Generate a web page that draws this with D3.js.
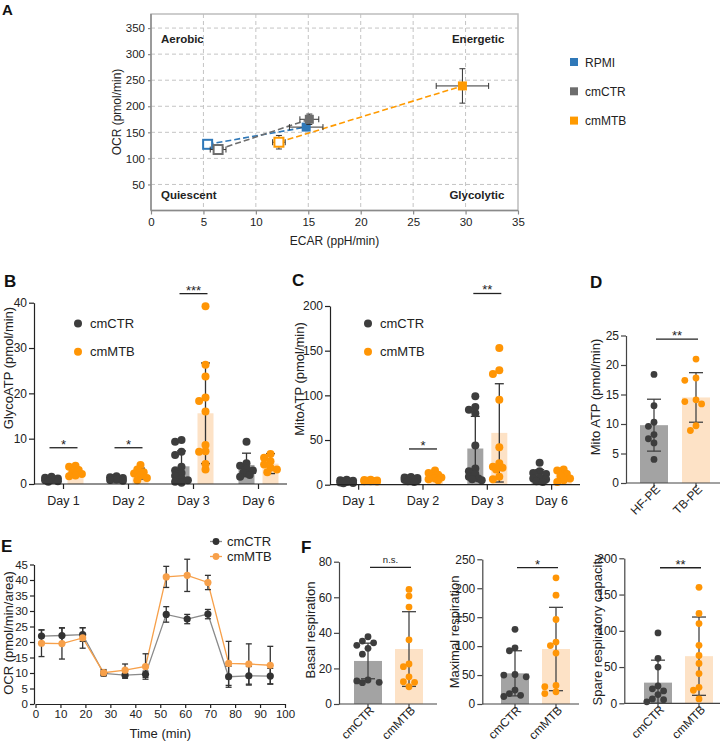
<!DOCTYPE html>
<html>
<head>
<meta charset="utf-8">
<script src="https://cdn.jsdelivr.net/npm/d3@7"></script>
<style>
  body { margin: 0; background: #fff; }
  svg { font-family: "Liberation Sans", Arial, Helvetica, sans-serif; }
</style>
</head>
<body>
<svg id="fig" width="727" height="744"></svg>
<script>
// ---------- Panel A: energy map ----------
const aGroups = ["RPMI", "cmCTR", "cmMTB"];
const aColors = ["#2f78b8", "#6d6d6d", "#ff9a00"];
const aBaseEcar = [5.4, 6.4, 12.2];
const aBaseOcr = [127, 117, 131];
const aBaseEcarErr = [0, 0.75, 0.6];
const aBaseOcrErr = [0, 3, 13];
const aStressEcar = [14.8, 15.1, 29.7];
const aStressOcr = [160, 175, 239];
const aStressEcarErr = [1.6, 0.9, 2.5];
const aStressOcrErr = [3, 10, 33];
const aEcarTicks = [0, 5, 10, 15, 20, 25, 30, 35];
const aOcrTicks = [50, 100, 150, 200, 250, 300, 350];

// ---------- Panels B / C: per day ----------
const days = ["Day 1", "Day 2", "Day 3", "Day 6"];
const groups = ["cmCTR", "cmMTB"];

const glycoCtrDots = [
  [1.6, 1.4, 1.2, 1.1, 1.0, 0.9, 0.8, 0.6, 0.5],
  [1.7, 1.5, 1.3, 1.2, 1.1, 1.0, 0.9, 0.7],
  [9.7, 9.3, 7.1, 6.4, 3.8, 3.0, 2.4, 1.8, 1.2, 0.8, 0.5, 0.3],
  [9.3, 4.6, 4.0, 3.4, 3.0, 2.5, 2.0, 1.6]
];
const glycoCtrMean = [1.0, 1.2, 3.9, 4.2];
const glycoCtrSd = [0.4, 0.3, 3.4, 2.6];
const glycoMtbDots = [
  [4.0, 3.8, 3.1, 2.6, 2.2, 1.9, 1.7],
  [4.2, 3.2, 2.6, 2.3, 1.9, 1.3, 0.8],
  [39.2, 26.3, 23.7, 19.1, 18.3, 16.0, 8.6, 7.2, 7.1, 4.4, 3.2],
  [6.6, 5.8, 5.0, 4.3, 3.6, 3.2, 2.6]
];
const glycoMtbMean = [2.8, 2.3, 15.6, 4.5];
const glycoMtbSd = [0.9, 1.2, 11.1, 2.2];
const glycoTicks = [0, 10, 20, 30, 40];
const glycoSigDays = ["Day 1", "Day 2", "Day 3"];
const glycoSigLabels = ["*", "*", "***"];
const glycoSigLevels = [8, 8, 42];

const mitoCtrDots = [
  [5.5, 5.0, 4.5, 4.0, 3.5, 3.0, 2.5, 2.0, 1.5],
  [8.5, 8.0, 7.5, 7.0, 6.5, 6.0, 5.5, 5.0, 4.0, 3.0],
  [99, 87, 84, 80, 44, 18, 15, 12, 9, 7, 6, 5],
  [24.6, 15, 13, 12, 8, 7, 6, 4, 3]
];
const mitoCtrMean = [3.7, 6.0, 40.5, 10.3];
const mitoCtrSd = [1.2, 1.7, 36, 6.5];
const mitoMtbDots = [
  [5.5, 5.2, 4.8, 4.5, 4.2, 4.0, 3.8, 3.5],
  [16, 13, 11, 9.5, 8, 7, 6, 5],
  [153, 128, 124, 95, 42, 24, 20, 19, 17, 9, 6],
  [17, 16, 12, 10, 7, 5, 3]
];
const mitoMtbMean = [4.4, 9.4, 58, 10];
const mitoMtbSd = [0.7, 3.7, 55, 5.3];
const mitoTicks = [0, 50, 100, 150, 200];
const mitoSigDays = ["Day 2", "Day 3"];
const mitoSigLabels = ["*", "**"];
const mitoSigLevels = [40, 214];

// ---------- Panel D ----------
const dLabels = ["HF-PE", "TB-PE"];
const dHfDots = [18.4, 13.1, 10.3, 9.6, 8.2, 7.5, 6.8, 4.0];
const dTbDots = [21.0, 17.8, 17.4, 14.1, 13.8, 13.4, 9.7, 8.9];
const dMeans = [9.8, 14.5];
const dSds = [4.4, 4.2];
const dTicks = [0, 5, 10, 15, 20, 25];

// ---------- Panel E: OCR time course ----------
const eTime = [2.4, 10.6, 18.9, 27.3, 35.9, 44.1, 52.4, 60.8, 69.1, 77.4, 85.5, 94.1];
const eCtr = [21.9, 22.1, 22.4, 9.9, 9.3, 9.6, 28.9, 27.4, 29.0, 8.8, 9.1, 9.0];
const eCtrSd = [2.0, 2.5, 2.2, 0.8, 1.0, 1.0, 2.5, 1.5, 1.5, 3.4, 3.0, 2.5];
const eMtb = [19.6, 19.5, 21.3, 10.1, 10.9, 12.1, 41.0, 41.5, 39.2, 13.1, 12.9, 12.5];
const eMtbSd = [4.3, 5.0, 3.3, 1.0, 2.0, 4.1, 3.4, 5.2, 2.3, 7.1, 6.5, 6.1];
const eTimeTicks = [0, 10, 20, 30, 40, 50, 60, 70, 80, 90, 100];
const eOcrTicks = [0, 5, 10, 15, 20, 25, 30, 35, 40, 45];

// ---------- Panel F ----------
const basalCtr = [37.8, 35.4, 34.4, 33.0, 31.3, 28.0, 13.5, 13.0, 12.2, 12.0];
const basalMtb = [64.4, 60.7, 54.5, 36.1, 22.5, 21.0, 15.3, 12.5, 12.2, 9.7];
const basalMeans = [24.2, 30.9];
const basalSds = [10, 21];
const maxCtr = [129, 97, 92, 51, 50, 47, 24, 18, 15, 13];
const maxMtb = [218, 188, 146, 107, 101, 88, 32, 30, 21, 18];
const maxMeans = [53, 95];
const maxSds = [39, 72];
const spareCtr = [97, 62, 50, 24, 20, 17, 12, 6, 5, 2];
const spareMtb = [160, 124, 110, 80, 66, 55, 41, 22, 18, 6];
const spareMeans = [28.5, 65];
const spareSds = [31, 54];

// ---------- drawing ----------
const FONT = '"Liberation Sans", Arial, Helvetica, sans-serif';
const svg = d3.select("#fig");
const dotFill = ["#3d3d3d", "#ff9505"];
const barFill = ["#a3a3a3", "#fde2c6"];

function panelLabel(t, x, y, size) {
  svg.append("text").attr("x", x).attr("y", y).attr("font-size", size)
    .attr("font-weight", "bold").attr("fill", "#111").text(t);
}

function styleAxis(g, fs, col) {
  g.attr("font-family", FONT).attr("font-size", fs);
  g.select(".domain").attr("stroke", col).attr("stroke-width", 1.2);
  g.selectAll(".tick line").attr("stroke", col).attr("stroke-width", 1.2);
  g.selectAll(".tick text").attr("fill", "#222");
}

function errorBar(g, cx, yLo, yHi, cap, col) {
  g.append("line").attr("x1", cx).attr("x2", cx).attr("y1", yLo).attr("y2", yHi)
    .attr("stroke", col).attr("stroke-width", 1.3);
  [yLo, yHi].forEach(yy => g.append("line").attr("x1", cx - cap).attr("x2", cx + cap)
    .attr("y1", yy).attr("y2", yy).attr("stroke", col).attr("stroke-width", 1.3));
}

function sigMark(g, x1, x2, yy, label, fs, gap) {
  g.append("line").attr("x1", x1).attr("x2", x2).attr("y1", yy).attr("y2", yy)
    .attr("stroke", "#222").attr("stroke-width", 1.3);
  g.append("text").attr("x", (x1 + x2) / 2).attr("y", yy - gap).attr("text-anchor", "middle")
    .attr("font-size", fs).attr("fill", "#222").text(label);
}

function yTitle(text, x, y, fs) {
  svg.append("text").attr("transform", `translate(${x},${y}) rotate(-90)`)
    .attr("text-anchor", "middle").attr("font-size", fs).attr("fill", "#222").text(text);
}

// simple beeswarm: offsets so that dots do not pile on top of each other
function swarm(vals, y, minDist, step, maxOff) {
  const placed = [];
  return vals.map(v => {
    const py = y(v);
    let best = 0, bestD = -1;
    for (let k = 0; k < 40; k++) {
      const c = k === 0 ? 0 : (k % 2 ? -1 : 1) * Math.ceil(k / 2) * step;
      if (Math.abs(c) > maxOff) break;
      const d = placed.length ? d3.min(placed, p => Math.hypot(p.x - c, p.y - py)) : Infinity;
      if (d >= minDist) { best = c; bestD = Infinity; break; }
      if (d > bestD) { bestD = d; best = c; }
    }
    placed.push({ x: best, y: py });
    return { x: best, y: py };
  });
}

// ===== Panel A =====
(function () {
  const g = svg.append("g");
  const x = d3.scaleLinear().domain([0, 35]).range([151, 518]);
  const y = d3.scaleLinear().domain([0, 377]).range([210.5, 14]);

  g.selectAll(".vg").data(aEcarTicks.slice(1, -1)).enter().append("line")
    .attr("x1", d => x(d)).attr("x2", d => x(d)).attr("y1", y(377)).attr("y2", y(0))
    .attr("stroke", "#c4c4c4").attr("stroke-dasharray", "4,3");
  g.selectAll(".hg").data(aOcrTicks).enter().append("line")
    .attr("x1", x(0)).attr("x2", x(35)).attr("y1", d => y(d)).attr("y2", d => y(d))
    .attr("stroke", "#c4c4c4").attr("stroke-dasharray", "4,3");
  g.append("rect").attr("x", x(0)).attr("y", y(377)).attr("width", x(35) - x(0))
    .attr("height", y(0) - y(377)).attr("fill", "none").attr("stroke", "#bdbdbd").attr("stroke-width", 1.5);

  const ax = g.append("g").attr("transform", `translate(0,${y(0)})`)
    .call(d3.axisBottom(x).tickValues(aEcarTicks).tickSize(4).tickSizeOuter(0).tickPadding(3));
  styleAxis(ax, 11.5, "#8a8a8a");
  const ay = g.append("g").attr("transform", `translate(${x(0)},0)`)
    .call(d3.axisLeft(y).tickValues(aOcrTicks).tickSize(3).tickSizeOuter(0).tickPadding(3));
  styleAxis(ay, 11.5, "#8a8a8a");
  ay.select(".domain").remove();
  ax.select(".domain").remove();
  g.append("line").attr("x1", x(0)).attr("x2", x(0)).attr("y1", y(377)).attr("y2", y(0)).attr("stroke", "#8a8a8a").attr("stroke-width", 1.5);
  g.append("line").attr("x1", x(0)).attr("x2", x(35)).attr("y1", y(0)).attr("y2", y(0)).attr("stroke", "#8a8a8a").attr("stroke-width", 1.5);

  const q = [["Aerobic", 0.95, 322, "start"], ["Energetic", 33.7, 322, "end"],
             ["Quiescent", 0.95, 22, "start"], ["Glycolytic", 33.7, 22, "end"]];
  q.forEach(d => g.append("text").attr("x", x(d[1])).attr("y", y(d[2])).attr("text-anchor", d[3])
    .attr("font-size", 11.5).attr("font-weight", "bold").attr("fill", "#222").text(d[0]));

  aGroups.forEach((name, i) => {
    g.append("line").attr("x1", x(aBaseEcar[i])).attr("y1", y(aBaseOcr[i]))
      .attr("x2", x(aStressEcar[i])).attr("y2", y(aStressOcr[i]))
      .attr("stroke", aColors[i]).attr("stroke-width", 1.6).attr("stroke-dasharray", "6,3");
  });
  aGroups.forEach((name, i) => {
    // baseline (open) and stressed (filled) markers with error bars
    const pts = [
      [aBaseEcar[i], aBaseOcr[i], aBaseEcarErr[i], aBaseOcrErr[i], true],
      [aStressEcar[i], aStressOcr[i], aStressEcarErr[i], aStressOcrErr[i], false]
    ];
    pts.forEach(p => {
      const cx = x(p[0]), cy = y(p[1]);
      if (p[2] > 0) {
        g.append("line").attr("x1", x(p[0] - p[2])).attr("x2", x(p[0] + p[2])).attr("y1", cy).attr("y2", cy).attr("stroke", "#333");
        [p[0] - p[2], p[0] + p[2]].forEach(e => g.append("line").attr("x1", x(e)).attr("x2", x(e))
          .attr("y1", cy - 3).attr("y2", cy + 3).attr("stroke", "#333"));
      }
      if (p[3] > 0) {
        g.append("line").attr("x1", cx).attr("x2", cx).attr("y1", y(p[1] - p[3])).attr("y2", y(p[1] + p[3])).attr("stroke", "#333");
        [p[1] - p[3], p[1] + p[3]].forEach(e => g.append("line").attr("x1", cx - 3).attr("x2", cx + 3)
          .attr("y1", y(e)).attr("y2", y(e)).attr("stroke", "#333"));
      }
      g.append("rect").attr("x", cx - 4.5).attr("y", cy - 4.5).attr("width", 9).attr("height", 9)
        .attr("fill", p[4] ? "#fff" : aColors[i]).attr("stroke", aColors[i]).attr("stroke-width", p[4] ? 2 : 0);
    });
    // legend
    g.append("rect").attr("x", 570).attr("y", 58 + i * 29.3).attr("width", 8).attr("height", 8).attr("fill", aColors[i]);
    g.append("text").attr("x", 585).attr("y", 66.5 + i * 29.3).attr("font-size", 12).attr("fill", "#222").text(name);
  });

  g.append("text").attr("x", (x(0) + x(35)) / 2).attr("y", 245).attr("text-anchor", "middle")
    .attr("font-size", 12).attr("fill", "#222").text("ECAR (ppH/min)");
  yTitle("OCR (pmol/min)", 121, 112, 12);
  panelLabel("A", 2, 15, 15);
})();

// ===== Panels B and C =====
function dayPanel(o) {
  const g = svg.append("g");
  const x = d3.scaleBand().domain(days).range(o.xRange);
  const sub = d3.scalePoint().domain(groups).range([-12, 12]);
  const y = d3.scaleLinear().domain([0, o.yMax]).range([o.y0, o.yTop]);
  const dayX = d => x(d) + x.bandwidth() / 2;
  const series = [[o.ctrDots, o.ctrMean, o.ctrSd], [o.mtbDots, o.mtbMean, o.mtbSd]];

  series.forEach((s, gi) => {
    s[0].forEach((vals, di) => {
      const c = dayX(days[di]) + sub(groups[gi]);
      const m = s[1][di], sd = s[2][di];
      g.append("rect").attr("x", c - 8).attr("width", 16).attr("y", y(m))
        .attr("height", y(0) - y(m)).attr("fill", barFill[gi]);
      errorBar(g, c, y(Math.max(0, m - sd)), y(m + sd), 4.5, "#333");
      swarm(vals, y, 5, 3.2, 9).forEach(p => g.append("circle").attr("cx", c + p.x).attr("cy", p.y)
        .attr("r", 4).attr("fill", dotFill[gi]));
    });
  });

  const ay = g.append("g").attr("transform", `translate(${o.axisX},0)`)
    .call(d3.axisLeft(y).tickValues(o.yTicks).tickSize(5).tickSizeOuter(0).tickPadding(2));
  styleAxis(ay, 12, "#222");
  g.append("line").attr("x1", o.axisX).attr("x2", o.xEnd).attr("y1", o.y0).attr("y2", o.y0)
    .attr("stroke", "#222").attr("stroke-width", 1.2);
  days.forEach(d => {
    g.append("line").attr("x1", dayX(d)).attr("x2", dayX(d)).attr("y1", o.y0).attr("y2", o.y0 + 5)
      .attr("stroke", "#222").attr("stroke-width", 1.2);
    g.append("text").attr("x", dayX(d)).attr("y", 505).attr("text-anchor", "middle")
      .attr("font-size", 12.5).attr("fill", "#222").text(d);
  });

  o.sigDays.forEach((d, i) => sigMark(g, dayX(d) - 14, dayX(d) + 14, y(o.sigLevels[i]), o.sigLabels[i], 13, -1));

  groups.forEach((name, gi) => {
    g.append("circle").attr("cx", o.legX).attr("cy", 323.5 + gi * 28.3).attr("r", 4).attr("fill", dotFill[gi]);
    g.append("text").attr("x", o.legX + 12).attr("y", 328 + gi * 28.3).attr("font-size", 13).attr("fill", "#222").text(name);
  });
}

dayPanel({
  xRange: [31, 291], axisX: 34, xEnd: 287, y0: 484, yTop: 302.7, yMax: 40, yTicks: glycoTicks,
  ctrDots: glycoCtrDots, ctrMean: glycoCtrMean, ctrSd: glycoCtrSd,
  mtbDots: glycoMtbDots, mtbMean: glycoMtbMean, mtbSd: glycoMtbSd,
  sigDays: glycoSigDays, sigLabels: glycoSigLabels, sigLevels: glycoSigLevels, legX: 78
});
yTitle("GlycoATP (pmol/min)", 13, 368, 13);
panelLabel("B", 4, 287, 17);

dayPanel({
  xRange: [326.5, 583.8], axisX: 330, xEnd: 580, y0: 484.7, yTop: 306, yMax: 200, yTicks: mitoTicks,
  ctrDots: mitoCtrDots, ctrMean: mitoCtrMean, ctrSd: mitoCtrSd,
  mtbDots: mitoMtbDots, mtbMean: mitoMtbMean, mtbSd: mitoMtbSd,
  sigDays: mitoSigDays, sigLabels: mitoSigLabels, sigLevels: mitoSigLevels, legX: 368
});
yTitle("MitoATP (pmol/min)", 304, 379, 13);
panelLabel("C", 292, 286, 17);

// ===== Panels D and F: two-bar scatter panels =====
function twoBar(o) {
  const g = svg.append("g");
  const x = d3.scalePoint().domain(o.labels).range(o.centers);
  const y = d3.scaleLinear().domain([0, o.yMax]).range([o.y0, o.yTop]);
  [o.a, o.b].forEach((vals, gi) => {
    const c = x(o.labels[gi]), m = o.means[gi], sd = o.sds[gi];
    g.append("rect").attr("x", c - 14).attr("width", 28).attr("y", y(m))
      .attr("height", y(0) - y(m)).attr("fill", barFill[gi]);
    errorBar(g, c, y(Math.max(0, m - sd)), y(m + sd), 7, "#444");
    swarm(vals, y, 6.2, 5.6, 14).forEach(p => g.append("circle").attr("cx", c + p.x).attr("cy", p.y)
      .attr("r", 3.4).attr("fill", dotFill[gi]));
  });
  const ay = g.append("g").attr("transform", `translate(${o.axisX},0)`)
    .call(d3.axisLeft(y).tickValues(o.yTicks).tickSize(5).tickSizeOuter(0).tickPadding(2));
  styleAxis(ay, 12, "#444");
  g.append("line").attr("x1", o.axisX).attr("x2", o.xEnd).attr("y1", o.y0).attr("y2", o.y0)
    .attr("stroke", "#444").attr("stroke-width", 1.2);
  o.labels.forEach(l => {
    g.append("line").attr("x1", x(l)).attr("x2", x(l)).attr("y1", o.y0).attr("y2", o.y0 + 5)
      .attr("stroke", "#444").attr("stroke-width", 1.2);
    g.append("text").attr("transform", `translate(${x(l) + 7},${o.y0 + 7}) rotate(-45)`)
      .attr("text-anchor", "end").attr("font-size", 12).attr("fill", "#222").text(l);
  });
  sigMark(g, o.centers[0] + 2, o.centers[1] + 2, y(o.sigLevel), o.sigLabel, o.sigFs, o.sigGap);
  yTitle(o.title, o.titleX, o.titleY, 13);
}

twoBar({
  labels: dLabels, centers: [654, 696], axisX: 626, xEnd: 720, y0: 483, yTop: 335.5, yMax: 25,
  yTicks: dTicks, a: dHfDots, b: dTbDots, means: dMeans, sds: dSds,
  sigLevel: 24.4, sigLabel: "**", sigFs: 13, sigGap: -1,
  title: "Mito ATP (pmol/min)", titleX: 600, titleY: 397
});
panelLabel("D", 590, 288, 17);

twoBar({
  labels: groups, centers: [368, 409], axisX: 339, xEnd: 437, y0: 704, yTop: 561.7, yMax: 80,
  yTicks: [0, 20, 40, 60, 80], a: basalCtr, b: basalMtb, means: basalMeans, sds: basalSds,
  sigLevel: 76.8, sigLabel: "n.s.", sigFs: 9.5, sigGap: 4,
  title: "Basal respiration", titleX: 315, titleY: 630
});
twoBar({
  labels: groups, centers: [515, 556], axisX: 482.3, xEnd: 579, y0: 704, yTop: 559.3, yMax: 250,
  yTicks: [0, 50, 100, 150, 200, 250], a: maxCtr, b: maxMtb, means: maxMeans, sds: maxSds,
  sigLevel: 235.7, sigLabel: "*", sigFs: 13, sigGap: -1,
  title: "Maximal respiration", titleX: 459, titleY: 632
});
twoBar({
  labels: groups, centers: [658, 699], axisX: 624.3, xEnd: 720, y0: 703.3, yTop: 558.3, yMax: 200,
  yTicks: [0, 50, 100, 150, 200], a: spareCtr, b: spareMtb, means: spareMeans, sds: spareSds,
  sigLevel: 187, sigLabel: "**", sigFs: 13, sigGap: -1,
  title: "Spare respiratory capacity", titleX: 602, titleY: 630
});
panelLabel("F", 301, 553, 17);

// ===== Panel E =====
(function () {
  const g = svg.append("g");
  const x = d3.scaleLinear().domain([0, 100]).range([35.5, 285]);
  const y = d3.scaleLinear().domain([0, 45]).range([704, 564.5]);
  const ax = g.append("g").attr("transform", `translate(0,${y(0)})`)
    .call(d3.axisBottom(x).tickValues(eTimeTicks).tickSize(4).tickSizeOuter(0).tickPadding(2));
  styleAxis(ax, 11.5, "#222");
  const ay = g.append("g").attr("transform", `translate(${x(0) - 1.5},0)`)
    .call(d3.axisLeft(y).tickValues(eOcrTicks).tickSize(4).tickSizeOuter(0).tickPadding(2));
  styleAxis(ay, 11.5, "#222");

  const ser = [[eCtr, eCtrSd, "#333", "#8a8a8a"], [eMtb, eMtbSd, "#f7a04a", "#f7a04a"]];
  const line = v => d3.line().x((d, i) => x(eTime[i])).y(d => y(d))(v);
  ser.forEach(s => g.append("path").attr("d", line(s[0])).attr("fill", "none")
    .attr("stroke", s[3]).attr("stroke-width", 1.3));
  ser.forEach(s => s[0].forEach((v, i) => errorBar(g, x(eTime[i]), y(v - s[1][i]), y(v + s[1][i]), 3, "#333")));
  ser.forEach(s => s[0].forEach((v, i) => g.append("circle").attr("cx", x(eTime[i])).attr("cy", y(v))
    .attr("r", 3.6).attr("fill", s[2])));

  groups.forEach((name, i) => {
    const ly = 541.5 + i * 15;
    g.append("line").attr("x1", 210).attr("x2", 222).attr("y1", ly).attr("y2", ly).attr("stroke", ser[i][3]).attr("stroke-width", 1.3);
    g.append("circle").attr("cx", 216).attr("cy", ly).attr("r", 3.4).attr("fill", ser[i][2]);
    g.append("text").attr("x", 227).attr("y", ly + 4.5).attr("font-size", 13).attr("fill", "#222").text(name);
  });
  g.append("text").attr("x", (x(0) + x(100)) / 2).attr("y", 738).attr("text-anchor", "middle")
    .attr("font-size", 13).attr("fill", "#222").text("Time (min)");
  yTitle("OCR (pmol/min/area)", 13, 633, 13);
  panelLabel("E", 1, 552, 17);
})();
</script>
</body>
</html>
